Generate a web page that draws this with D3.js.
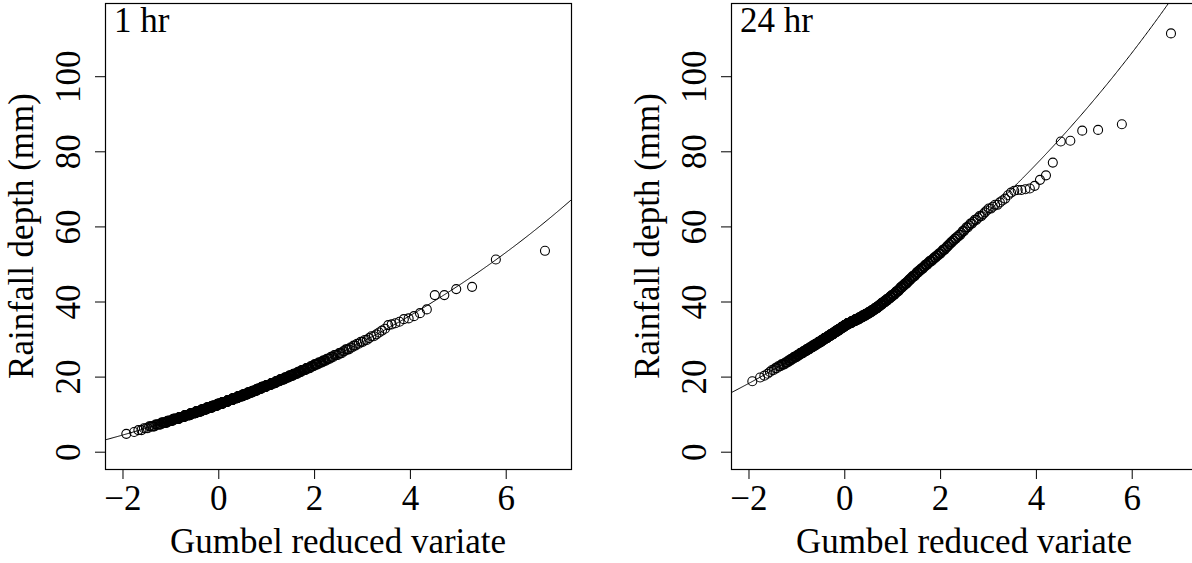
<!DOCTYPE html>
<html>
<head>
<meta charset="utf-8">
<script src="https://cdn.jsdelivr.net/npm/d3@7"></script>
<style>
body { margin: 0; background: #fff; }
svg { display: block; font-family: "Liberation Serif", "Times New Roman", serif; }
</style>
</head>
<body>
<svg width="1192" height="563"></svg>
<script>
// sorted rainfall depths (mm): counts per 0.5 mm bin, then the largest values one by one
const binStart1h = 4.5;
const counts1h = [1, 1, 2, 3, 5, 7, 9, 11, 14, 15, 17, 19, 19, 20, 21, 21, 20, 20, 19, 19,
	18, 17, 16, 14, 14, 13, 13, 11, 10, 10, 9, 8, 8, 6, 7, 6, 5, 5, 5, 4, 4, 3, 4, 3, 2, 3,
	2, 2, 2, 2, 2, 1, 2, 1, 1, 1, 1];
const tail1h = [33.7, 33.9, 34.2, 34.6, 35.3, 35.5, 36.1, 36.9, 37.9, 41.7, 41.7, 43.3,
	43.9, 51.2, 53.5];

const binStart24h = 18.5;
const counts24h = [1, 0, 1, 1, 1, 1, 2, 2, 3, 4, 4, 4, 5, 6, 6, 7, 8, 8, 9, 9, 10, 10, 10,
	11, 11, 11, 11, 11, 11, 11, 12, 15, 15, 14, 13, 12, 12, 10, 10, 9, 8, 7, 8, 7, 7, 6, 7, 5,
	6, 4, 5, 5, 5, 4, 4, 4, 5, 3, 4, 4, 4, 3, 4, 3, 4, 3, 3, 3, 3, 2, 3, 2, 2, 2, 2, 2, 2, 2,
	2, 1, 2, 1, 2, 1, 2, 1, 2, 1, 2, 1, 1, 1, 2, 1, 2];
const tail24h = [66.4, 66.9, 67.4, 68.3, 69.0, 69.5, 69.7, 69.7, 69.9, 70.1, 70.8, 72.4,
	73.6, 77.0, 82.6, 82.8, 85.5, 85.7, 87.2, 111.4];

// fitted GEV line: location, scale, shape
const fit1h = [12.6, 4.6, 0.12];
const fit24h = [33.5, 8.55, 0.11];

const xTicks = [-2, 0, 2, 4, 6];
const yTicks = [0, 20, 40, 60, 80, 100];
const panelLabels = ["1 hr", "24 hr"];

const svg = d3.select("svg");
const fmt = d3.format("d");

function expand(start, counts, tail) {
	const vals = [];
	counts.forEach((c, i) => {
		for (let k = 0; k < c; k++) vals.push(start + i * 0.5 + 0.25);
	});
	return vals.concat(tail);
}

const panels = [
	{ left: 105, right: 571, label: panelLabels[0], depths: expand(binStart1h, counts1h, tail1h), fit: fit1h },
	{ left: 731, right: 1197, label: panelLabels[1], depths: expand(binStart24h, counts24h, tail24h), fit: fit24h }
];

const plotTop = 3, plotBottom = 469;

panels.forEach((p, pi) => {
	const x = d3.scaleLinear().domain([-2.365, 7.363]).range([p.left, p.right]);
	const y = d3.scaleLinear().domain([-4.61, 119.5]).range([plotBottom, plotTop]);
	const g = svg.append("g");

	g.append("clipPath").attr("id", "clip" + pi)
		.append("rect")
		.attr("x", p.left).attr("y", plotTop)
		.attr("width", p.right - p.left).attr("height", plotBottom - plotTop);

	// Gringorten plotting positions on the Gumbel reduced variate
	const n = p.depths.length;
	const pts = p.depths.map((d, i) => [-Math.log(-Math.log((i + 1 - 0.44) / (n + 0.12))), d]);

	const [mu, a, c] = p.fit;
	const curve = d3.range(-2.5, 7.5, 0.02).map((u) => [u, mu + (a * (Math.exp(c * u) - 1)) / c]);

	g.append("path")
		.datum(curve)
		.attr("clip-path", "url(#clip" + pi + ")")
		.attr("fill", "none")
		.attr("stroke", "#000")
		.attr("stroke-width", 1)
		.attr("d", d3.line().x((d) => x(d[0])).y((d) => y(d[1])));

	g.append("g")
		.attr("clip-path", "url(#clip" + pi + ")")
		.selectAll("circle")
		.data(pts)
		.enter()
		.append("circle")
		.attr("cx", (d) => x(d[0]))
		.attr("cy", (d) => y(d[1]))
		.attr("r", 4.5)
		.attr("fill", "none")
		.attr("stroke", "#000")
		.attr("stroke-width", 1.1);

	g.append("rect")
		.attr("x", p.left + 0.5).attr("y", plotTop + 0.5)
		.attr("width", p.right - p.left).attr("height", plotBottom - plotTop)
		.attr("fill", "none").attr("stroke", "#000").attr("stroke-width", 1.2);

	const xAxis = g.append("g")
		.attr("transform", `translate(0,${plotBottom})`)
		.call(d3.axisBottom(x).tickValues(xTicks).tickSize(10).tickFormat(fmt));
	xAxis.select(".domain").remove();
	xAxis.selectAll("line").attr("stroke", "#000");
	xAxis.selectAll("text")
		.attr("y", 41).attr("dy", null)
		.attr("fill", "#000")
		.style("font-size", "35px")
		.style("font-family", "Liberation Serif, serif");

	const yAxis = g.append("g")
		.attr("transform", `translate(${p.left},0)`)
		.call(d3.axisLeft(y).tickValues(yTicks).tickSize(10).tickFormat(fmt));
	yAxis.select(".domain").remove();
	yAxis.selectAll("line").attr("stroke", "#000");
	yAxis.selectAll("text")
		.attr("x", null).attr("dy", null)
		.attr("transform", "translate(-25,0) rotate(-90)")
		.attr("text-anchor", "middle")
		.attr("fill", "#000")
		.style("font-size", "35px")
		.style("font-family", "Liberation Serif, serif");

	g.append("text")
		.attr("x", (p.left + p.right) / 2)
		.attr("y", 553)
		.attr("text-anchor", "middle")
		.style("font-size", "35px")
		.text("Gumbel reduced variate");

	g.append("text")
		.attr("transform", `translate(${p.left - 72},${(plotTop + plotBottom) / 2}) rotate(-90)`)
		.attr("text-anchor", "middle")
		.style("font-size", "35px")
		.text("Rainfall depth (mm)");

	g.append("text")
		.attr("x", p.left + 9)
		.attr("y", 32)
		.style("font-size", "35px")
		.text(p.label);
});
</script>
</body>
</html>
